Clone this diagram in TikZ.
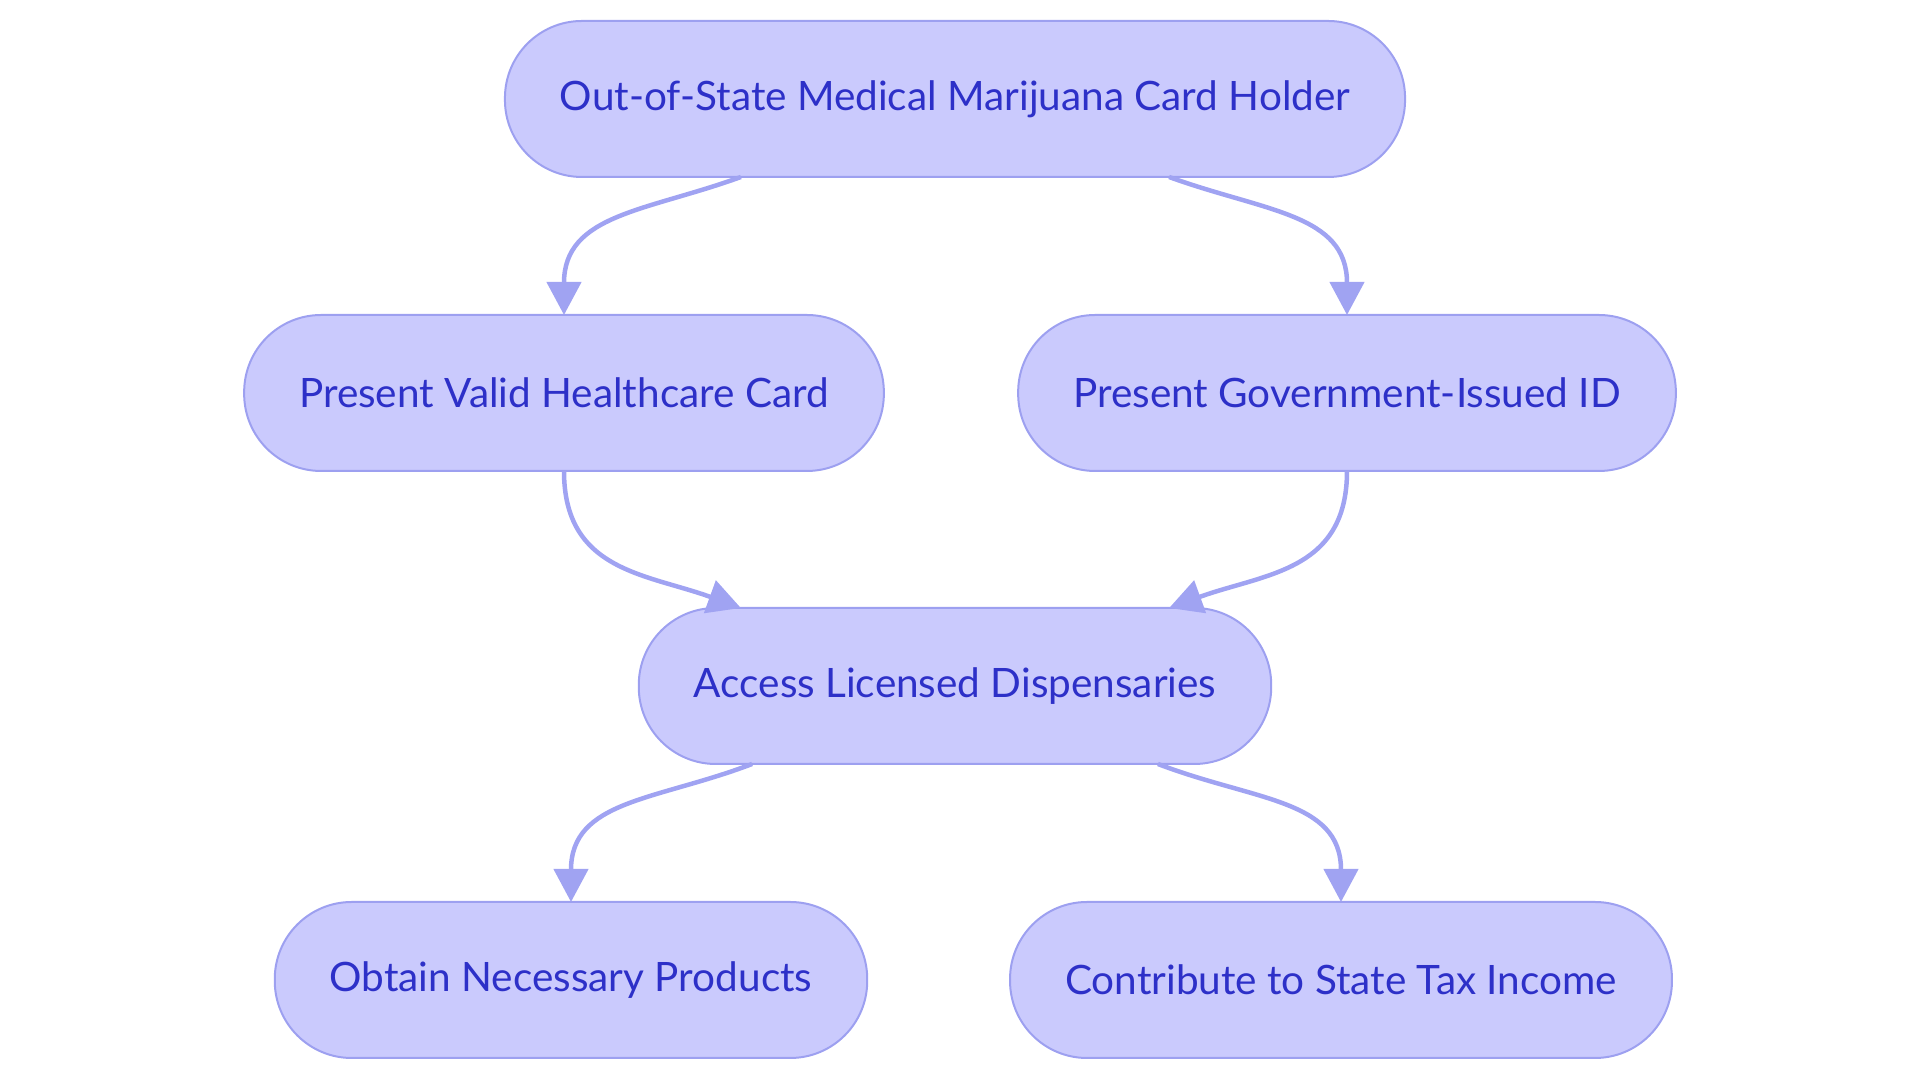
\documentclass[tikz,border=0pt]{standalone}
\usepackage{fontspec}
\setmainfont{Lato}
\usepackage{tikz,tkz-graph}
\usetikzlibrary{arrows.meta}
\definecolor{boxFill}{RGB}{202,202,253}
\definecolor{boxBorder}{RGB}{157,160,240}
\definecolor{edgeBlue}{RGB}{160,163,242}
\definecolor{boxText}{RGB}{45,48,200}
\tikzstyle{flowBox}=[shape = rectangle, rounded corners = 77pt, minimum height = 156pt, inner xsep = 55pt, draw = boxBorder, line width = 2pt, fill = boxFill, text = boxText, font = \fontsize{40.5}{48}\selectfont]
\tikzstyle{flowEdge}=[draw = edgeBlue, line width = 4.5pt, looseness = 1.15, -{Triangle[length = 33pt, width = 34pt]}]

\begin{document}
\begin{tikzpicture}[x = 1pt, y = 1pt]
\tikzstyle{VertexStyle} = []
\useasboundingbox (0,0) rectangle (1920,1083);
\Vertex[style = flowBox, x = 955.000, y = 984.000, L = {Out-of-State Medical Marijuana Card Holder}]{v0}
\Vertex[style = flowBox, x = 564.000, y = 690.000, L = {Present Valid Healthcare Card}]{v1}
\Vertex[style = flowBox, x = 1347.000, y = 690.000, L = {Present Government-Issued ID}]{v2}
\Vertex[style = flowBox, x = 955.000, y = 397.000, L = {Access Licensed Dispensaries}]{v3}
\Vertex[style = flowBox, x = 571.000, y = 103.000, L = {Obtain Necessary Products}]{v4}
\Vertex[style = flowBox, x = 1341.000, y = 103.000, L = {Contribute to State Tax Income}]{v5}
\draw[flowEdge] (v0) to[out = 200, in = 90] (v1);
\draw[flowEdge] (v0) to[out = -20, in = 90] (v2);
\draw[flowEdge] (v1) to[out = -90, in = 160] (v3);
\draw[flowEdge] (v2) to[out = -90, in = 20] (v3);
\draw[flowEdge] (v3) to[out = 201, in = 90] (v4);
\draw[flowEdge] (v3) to[out = -21, in = 90] (v5);
\end{tikzpicture}
\end{document}
